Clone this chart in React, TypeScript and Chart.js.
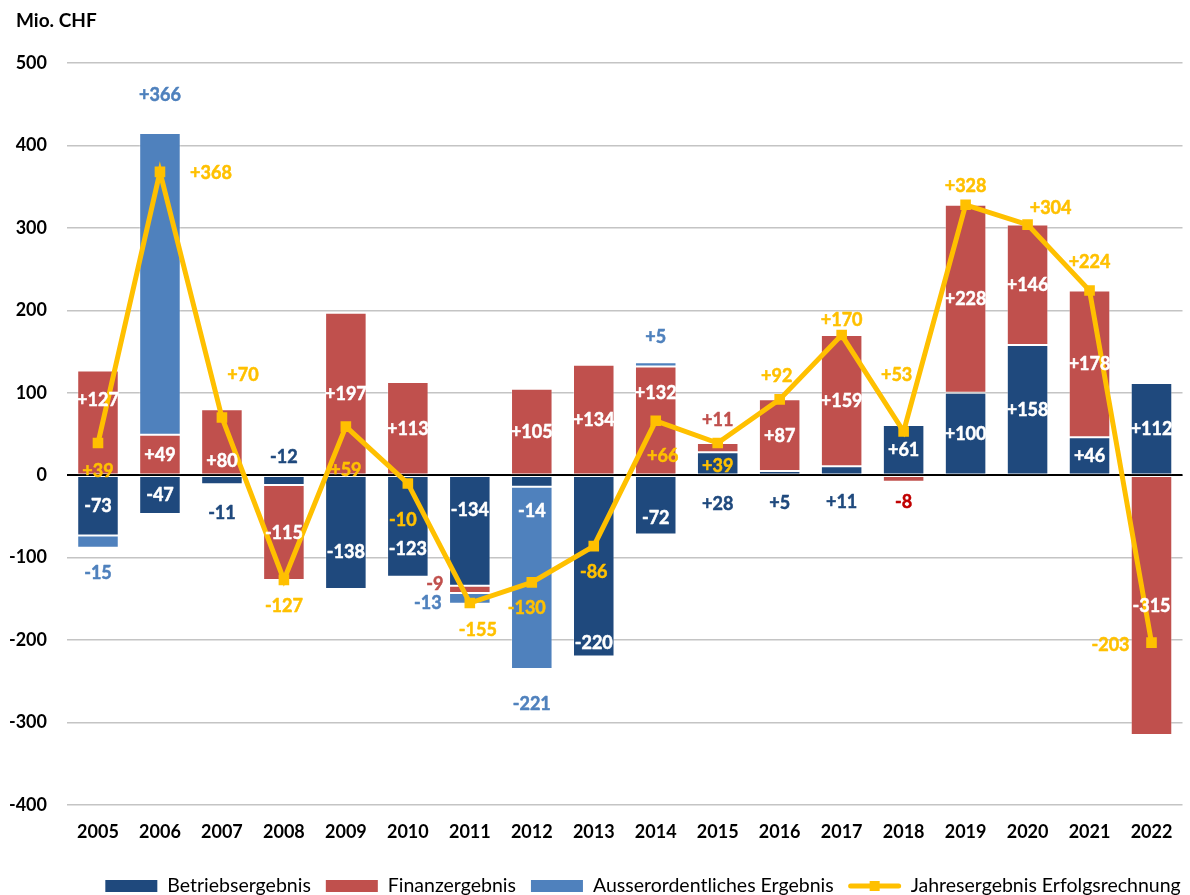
import React, { useEffect, useRef } from "react";
import { Chart, registerables } from "chart.js";

Chart.register(...registerables);

const FONT = "Lato, 'Open Sans', sans-serif";

// ---------- data ----------
const years = ["2005", "2006", "2007", "2008", "2009", "2010", "2011", "2012", "2013", "2014", "2015", "2016", "2017", "2018", "2019", "2020", "2021", "2022"];
const betrieb = [-73, -47, -11, -12, -138, -123, -134, -14, -220, -72, 28, 5, 11, 61, 100, 158, 46, 112];
const finanz = [127, 49, 80, -115, 197, 113, -9, 105, 134, 132, 11, 87, 159, -8, 228, 146, 178, -315];
const ausser: (number | null)[] = [-15, 366, null, null, null, null, -13, -221, null, 5, null, null, null, null, null, null, null, null];
const jahres = [39, 368, 70, -127, 59, -10, -155, -130, -86, 66, 39, 92, 170, 53, 328, 304, 224, -203];
const yTicks = [500, 400, 300, 200, 100, 0, -100, -200, -300, -400];
const seriesNames = ["Betriebsergebnis", "Finanzergebnis", "Ausserordentliches Ergebnis", "Jahresergebnis Erfolgsrechnung"];

// ---------- styles ----------
const C_DARK = "#1F497D";
const C_RED = "#C0504D";
const C_LIGHT = "#4F81BD";
const C_GOLD = "#FFC000";
const C_DRED = "#C00000";
const W = "#FFFFFF";
const BAR_EDGE = "rgba(255,255,255,0.3)";

// label placement: pixel offsets from segment centre (bars) or from point (line)
const betriebOff: [number, number][] = [[0, 0], [0, 0], [0, 32], [0, -24], [0, 19], [0, 22], [0, -21], [0, 29], [0, 76], [0, 12], [0, 40], [0, 30], [0, 31], [0, 0], [0, 0], [0, 0], [0, 0], [0, 0]];
const betriebCol = [W, W, C_DARK, C_DARK, W, W, W, W, W, W, C_DARK, C_DARK, C_DARK, W, W, W, W, W];
const finanzOff: [number, number][] = [[0, -23], [0, 0], [0, 19], [0, 0], [0, 0], [0, 0], [-35, -6], [0, 0], [0, 0], [0, -28], [0, -28], [0, 0], [0, 0], [0, 23], [0, 0], [0, 0], [0, 0], [0, 0]];
const finanzCol = [W, W, W, W, W, W, C_RED, W, W, W, C_RED, W, W, C_DRED, W, W, W, W];
const ausserOff: [number, number][] = [[0, 31], [0, -189], [0, 0], [0, 0], [0, 0], [0, 0], [-42, 4], [0, 126], [0, 0], [0, -28], [0, 0], [0, 0], [0, 0], [0, 0], [0, 0], [0, 0], [0, 0], [0, 0]];
const ausserCol = years.map(() => C_LIGHT);
const jahresOff: [number, number][] = [[0, 27], [51, 1], [21, -43], [0, 26], [0, 43], [-5, 36], [8, 26], [-5, 25], [0, 25], [7, 35], [0, 22], [-3, -24], [0, -16], [-7, -57], [0, -19], [23, -17], [0, -29], [-41, 2]];
const jahresCol = years.map(() => C_GOLD);

const labelCfg = [
  { off: betriebOff, col: betriebCol },
  { off: finanzOff, col: finanzCol },
  { off: ausserOff, col: ausserCol },
  { off: jahresOff, col: jahresCol },
];

const fmt = (v: number) => (v > 0 ? "+" + v : String(v));

export default function App() {
  const ref = useRef<HTMLCanvasElement>(null);

  useEffect(() => {
    const canvas = ref.current;
    if (!canvas) return;

    const zeroLine = {
      id: "zeroLine",
      beforeDatasetDraw(chart: any, args: any) {
        if (args.meta.type !== "line") return;
        const ctx = chart.ctx;
        const y = Math.round(chart.scales.y.getPixelForValue(0)) + 0.5;
        ctx.save();
        ctx.strokeStyle = "#000";
        ctx.lineWidth = 1.2;
        ctx.beginPath();
        ctx.moveTo(chart.chartArea.left, y);
        ctx.lineTo(chart.chartArea.right, y);
        ctx.stroke();
        ctx.restore();
      },
    };

    const valueLabels = {
      id: "valueLabels",
      afterDatasetsDraw(chart: any) {
        const ctx = chart.ctx;
        ctx.save();
        ctx.font = `bold 18px ${FONT}`;
        ctx.textAlign = "center";
        ctx.textBaseline = "alphabetic";
        ctx.lineWidth = 0.5;
        ctx.lineJoin = "round";
        chart.data.datasets.forEach((ds: any, i: number) => {
          const meta = chart.getDatasetMeta(i);
          const cfg = labelCfg[i];
          meta.data.forEach((el: any, j: number) => {
            const v = ds.data[j];
            if (v == null) return;
            const p = el.getProps(["x", "y", "base"], true);
            const cy = meta.type === "bar" ? (p.y + p.base) / 2 : p.y;
            const [dx, dy] = cfg.off[j];
            ctx.fillStyle = cfg.col[j];
            ctx.strokeStyle = cfg.col[j];
            ctx.fillText(fmt(v), p.x + dx, cy + dy + 6.5);
            ctx.strokeText(fmt(v), p.x + dx, cy + dy + 6.5);
          });
        });
        ctx.restore();
      },
    };

    const decorations = {
      id: "decorations",
      afterDraw(chart: any) {
        const ctx = chart.ctx;
        ctx.save();
        // unit title
        ctx.font = `bold 19px ${FONT}`;
        ctx.fillStyle = "#000";
        ctx.textAlign = "left";
        ctx.textBaseline = "alphabetic";
        ctx.fillText("Mio. CHF", 16, 27);

        // legend
        ctx.font = `19.5px ${FONT}`;
        const items = chart.data.datasets.map((ds: any) => ({
          text: ds.label as string,
          color: (ds.type === "line" ? ds.borderColor : ds.backgroundColor) as string,
          line: ds.type === "line",
        }));
        const symW = 52;
        const gapSym = 10;
        const gapItem = 15;
        const widths = items.map((it: any) => symW + gapSym + ctx.measureText(it.text).width);
        const total = widths.reduce((a: number, b: number) => a + b, 0) + gapItem * (items.length - 1);
        let x = 643 - total / 2;
        const yc = 886;
        items.forEach((it: any, k: number) => {
          if (it.line) {
            ctx.strokeStyle = it.color;
            ctx.lineWidth = 5;
            ctx.lineCap = "round";
            ctx.beginPath();
            ctx.moveTo(x + 2, yc);
            ctx.lineTo(x + symW - 2, yc);
            ctx.stroke();
            ctx.fillStyle = it.color;
            ctx.fillRect(x + symW / 2 - 5, yc - 5, 10, 10);
          } else {
            ctx.fillStyle = it.color;
            ctx.fillRect(x, yc - 6, symW, 12);
          }
          ctx.fillStyle = "#000";
          ctx.textAlign = "left";
          ctx.fillText(it.text, x + symW + gapSym, yc + 6);
          x += widths[k] + gapItem;
        });
        ctx.restore();
      },
    };

    const chart = new Chart(canvas, {
      type: "bar",
      data: {
        labels: years,
        datasets: [
          { type: "bar", label: seriesNames[0], data: betrieb, backgroundColor: C_DARK, borderColor: BAR_EDGE, borderWidth: 1, borderSkipped: false, order: 1 },
          { type: "bar", label: seriesNames[1], data: finanz, backgroundColor: C_RED, borderColor: BAR_EDGE, borderWidth: 1, borderSkipped: false, order: 1 },
          { type: "bar", label: seriesNames[2], data: ausser, backgroundColor: C_LIGHT, borderColor: BAR_EDGE, borderWidth: 1, borderSkipped: false, order: 1 },
          {
            type: "line",
            label: seriesNames[3],
            data: jahres,
            borderColor: C_GOLD,
            backgroundColor: C_GOLD,
            borderWidth: 5,
            tension: 0,
            pointStyle: "rect",
            pointRadius: 7.5,
            pointBorderWidth: 0,
            pointBackgroundColor: C_GOLD,
            order: 0,
          } as any,
        ],
      },
      options: {
        responsive: false,
        animation: false,
        devicePixelRatio: 1,
        layout: { padding: { top: 63, left: 0, right: 0, bottom: 0 } },
        datasets: { bar: { barPercentage: 0.67, categoryPercentage: 1 } },
        plugins: { legend: { display: false }, tooltip: { enabled: false }, title: { display: false } },
        scales: {
          x: {
            stacked: true,
            grid: { display: false, drawTicks: false },
            border: { display: false },
            ticks: { font: { family: FONT, size: 18, weight: "bold" }, color: "#000", padding: 16, maxRotation: 0, autoSkip: false },
            afterFit: (s: any) => { s.height = 90; },
          },
          y: {
            stacked: true,
            min: yTicks[yTicks.length - 1],
            max: yTicks[0],
            afterBuildTicks: (s: any) => { s.ticks = yTicks.map((v) => ({ value: v })); },
            grid: {
              drawTicks: false,
              color: (c: any) => (c.tick && c.tick.value === 0 ? "#000000" : "#C4C4C4"),
              lineWidth: 1.5,
            },
            border: { display: false },
            ticks: { font: { family: FONT, size: 18, weight: "bold" }, color: "#000", padding: 20, callback: (v: any) => String(v) },
            afterFit: (s: any) => { s.width = 67; },
          },
        },
      },
      plugins: [zeroLine, valueLabels, decorations],
    });

    return () => chart.destroy();
  }, []);

  return (
    <div style={{ position: "fixed", left: 0, top: 0, width: 1190, height: 895, background: "#fff" }}>
      <canvas ref={ref} width={1190} height={895} style={{ display: "block" }} />
    </div>
  );
}
